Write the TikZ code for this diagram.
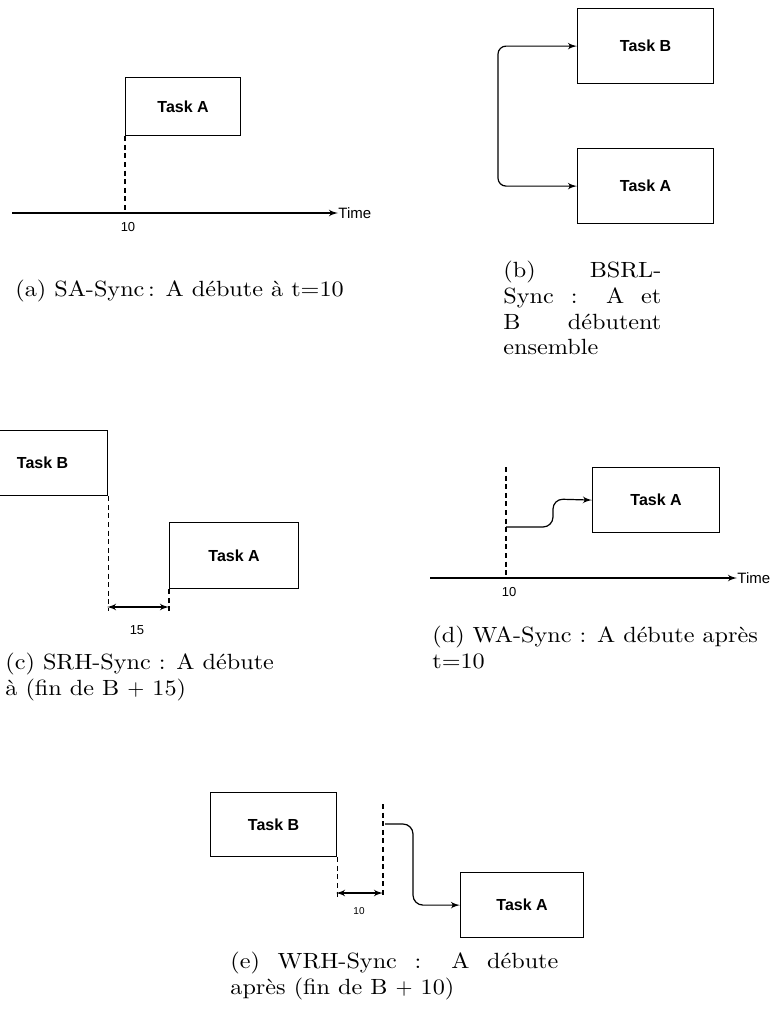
\documentclass[tikz,border=0pt]{standalone}
\usepackage{fontspec}
\usepackage{tikz}
\usetikzlibrary{shapes,arrows,positioning}
\newfontfamily\tasksf{Liberation Sans}
\newfontfamily\capfont{lmroman10-regular.otf}[FakeStretch=1.1]

\begin{document}
\begin{tikzpicture}[x=0.5pt, y=-0.5pt, node distance=1cm]
\tikzstyle{task} = [rectangle, draw, line width=0.6pt, anchor=north west, inner sep=0pt, font=\tasksf\bfseries\fontsize{8}{9}\selectfont]
\tikzstyle{line} = [draw, line width=0.6pt, -latex']
\tikzstyle{dline} = [draw, line width=0.6pt, dash pattern=on 2.5pt off 1.8pt]
\tikzstyle{tick} = [inner sep=0pt, font=\tasksf\fontsize{6.5}{7}\selectfont]
\tikzstyle{caption} = [anchor=north west, inner sep=0pt, align=left, font=\capfont\fontsize{11}{12.8}\selectfont]

\useasboundingbox (0,0) rectangle (779,1034);
\clip (0,0) rectangle (779,1034);

% (a) SA-Sync
\node [task, minimum width=57.5pt, minimum height=29pt] (aA) at (125,77) {Task A};
\coordinate (a0) at (12,213);
\coordinate (a10) at (125,213);
\node [tick, anchor=west, font=\tasksf\fontsize{7.5}{8}\selectfont] (aTime) at (338,213) {Time};
\path [line] (a0) -- (aTime.west);
\path [dline] (aA.south west) -- (a10);
\node [tick, below=4.5pt of a10, xshift=1.5pt] (a10l) {10};
\node [caption] (capa) at (15,280) {(a) SA-Sync\,: A débute à t=10};

% (b) BSRL-Sync
\node [task, minimum width=68pt, minimum height=37.5pt] (bB) at (577,8) {Task B};
\node [task, minimum width=68pt, minimum height=37.5pt] (bA) at (577,148) {Task A};
\path [line, latex'-latex', rounded corners=4pt] (bB.west) -- ++(-79,0) |- (bA.west);
\node [caption] (capb) at (503,261) {\makebox[79pt][s]{(b) BSRL-}\\
  \makebox[79pt][s]{Sync : A et}\\
  \makebox[79pt][s]{B débutent}\\
  ensemble};

% (c) SRH-Sync
\node [task, minimum width=65pt, minimum height=32.5pt] (cB) at (-23,430) {Task B};
\node [task, minimum width=64.5pt, minimum height=33pt] (cA) at (169,522) {Task A};
\coordinate (cl) at (107,607);
\coordinate (cr) at (169,607);
\path [dline] (cB.south east) -- ++(0,115);
\path [dline] (cA.south west) -- ++(0,23);
\path [line, latex'-latex'] (cl) -- (cr);
\node [tick, below=9pt of cl, xshift=15pt] (c15) {15};
\node [caption] (capc) at (5,653) {(c) SRH-Sync : A débute\\à (fin de B $+$ 15)};

% (d) WA-Sync
\node [task, minimum width=63.5pt, minimum height=32.5pt] (dA) at (592,467) {Task A};
\coordinate (d0) at (430,578);
\coordinate (dtop) at (506,467);
\coordinate (d10) at (506,578);
\coordinate (dst) at (506,527);
\coordinate (dk) at (553,499);
\node [tick, anchor=west, font=\tasksf\fontsize{7.5}{8}\selectfont] (dTime) at (737,578) {Time};
\path [line] (d0) -- (dTime.west);
\path [dline] (dtop) -- (d10);
\path [line, rounded corners=5pt] (dst) -| (dk) -- (dA.west);
\node [tick, below=4.5pt of d10, xshift=1.5pt] (d10l) {10};
\node [caption] (capd) at (432,626) {(d) WA-Sync : A débute après\\t=10};

% (e) WRH-Sync
\node [task, minimum width=63pt, minimum height=32pt] (eB) at (210,792) {Task B};
\node [task, minimum width=61.5pt, minimum height=32.5pt] (eA) at (460,872) {Task A};
\coordinate (etop) at (383,804);
\coordinate (est) at (385,824);
\coordinate (el) at (336,893);
\coordinate (er) at (383,893);
\path [dline] (eB.south east) -- ++(0,42);
\path [dline] (etop) -- ++(0,94);
\path [line, latex'-latex'] (el) -- (er);
\path [line, rounded corners=5pt] (est) -- ++(28,0) |- (eA.west);
\node [tick, below=7pt of el, xshift=11.5pt, font=\tasksf\fontsize{5}{6}\selectfont] (e10) {10};
\node [caption] (cape) at (230,952) {\makebox[164pt][s]{(e) WRH-Sync : A débute}\\après (fin de B $+$ 10)};
\end{tikzpicture}
\end{document}
